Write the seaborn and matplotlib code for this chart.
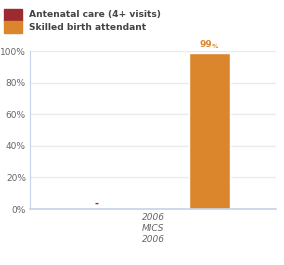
import numpy as np
import pandas as pd
import matplotlib
matplotlib.use("Agg")
import matplotlib.pyplot as plt
import seaborn as sns

years = ["2006"]
survey_labels = ["2006\nMICS\n2006"]
series = ["Antenatal care (4+ visits)", "Skilled birth attendant"]
antenatal = [np.nan]
skilled = [99]
colors = ["#9c2a2f", "#db852c"]

df = pd.DataFrame({
    "year": years * 2,
    "series": [series[0]] * len(years) + [series[1]] * len(years),
    "value": antenatal + skilled,
})

sns.set_style("white")
plt.rcParams["font.family"] = ["DejaVu Sans"]

fig = plt.figure(figsize=(2.84, 2.65), dpi=100)
ax = fig.add_axes([0.106, 0.211, 0.866, 0.596])

sns.barplot(data=df, x="year", y="value", hue="series", palette=colors,
            width=0.914, gap=0.64, ax=ax, legend=False, saturation=1)

ax.set_xlim(-0.5, 0.5)
ax.set_ylim(0, 100)
ax.set_yticks([0, 20, 40, 60, 80, 100])
ax.set_yticklabels([f"{v}%" for v in range(0, 101, 20)], color="#666666", fontsize=6.5)
ax.yaxis.grid(True, color="#ebebeb", linewidth=1)
ax.set_axisbelow(True)
ax.set_xticks([0])
ax.set_xticklabels(survey_labels, fontsize=6.5, style="italic", color="#666666",
                   linespacing=1.25)
ax.tick_params(axis="both", length=0, pad=3)
ax.set_xlabel("")
ax.set_ylabel("")
for s in ["top", "right"]:
    ax.spines[s].set_visible(False)
ax.spines["left"].set_color("#c5d3e8")
ax.spines["bottom"].set_color("#c5d3e8")
ax.spines["bottom"].set_linewidth(1.2)

# value labels
offs = [-0.2285, 0.2285]
vals = [antenatal[0], skilled[0]]
for i, v in enumerate(vals):
    if np.isnan(v):
        ax.text(offs[i], 0.5, "-", ha="center", va="bottom", color=colors[i],
                fontsize=7, fontweight="bold")
    else:
        ax.text(offs[i] + 0.012, v + 2.5, f"{v:.0f}", ha="right", va="bottom",
                color=colors[i], fontsize=6.5, fontweight="bold")
        ax.text(offs[i] + 0.012, v + 2.5, "%", ha="left", va="bottom",
                color=colors[i], fontsize=4.5, fontweight="bold")

# legend
for i, name in enumerate(series):
    y = 1 - (9 + 12 * i) / 265
    fig.patches.append(plt.Rectangle((4 / 284, y - 12 / 265), 18 / 284, 12 / 265,
                                     transform=fig.transFigure, color=colors[i]))
    fig.text(29 / 284, y - 6 / 265, name, fontsize=6.6, fontweight="bold",
             color="#444444", va="center", ha="left")

fig.savefig("out.png", dpi=100)
